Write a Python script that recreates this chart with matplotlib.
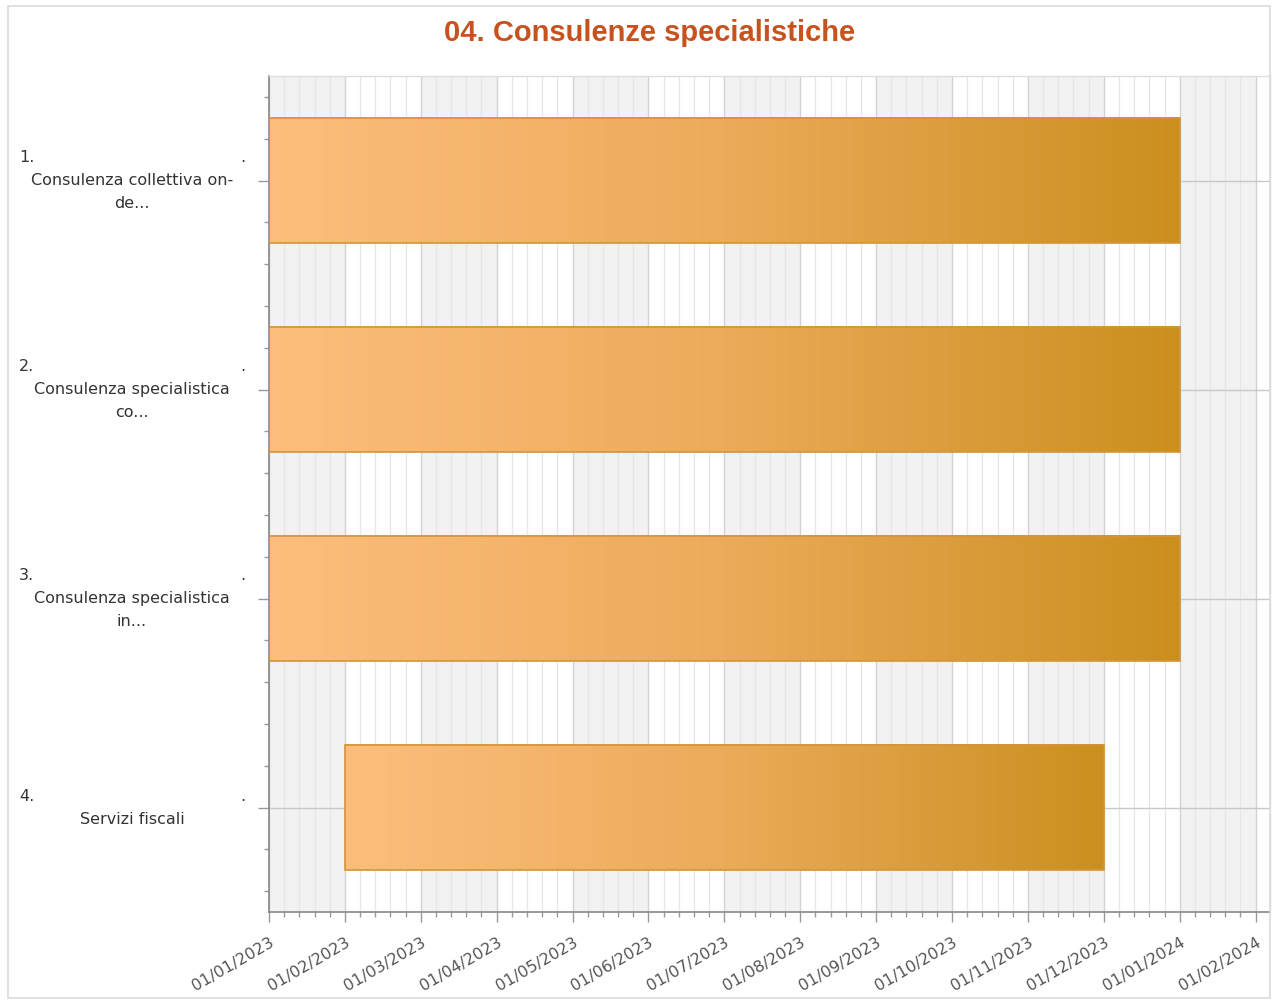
import matplotlib
matplotlib.use('Agg')
import matplotlib.pyplot as plt
from matplotlib.colors import LinearSegmentedColormap
from matplotlib.patches import Rectangle
from matplotlib.ticker import FixedLocator, FixedFormatter
import numpy as np
import pandas as pd

# ---------------- data ----------------
title = "04. Consulenze specialistiche"
numbers = ["1.", "2.", "3.", "4."]
names = ["Consulenza collettiva on-\nde...",
         "Consulenza specialistica\nco...",
         "Consulenza specialistica\nin...",
         "Servizi fiscali"]
starts = ["2023-01-01", "2023-01-01", "2023-01-01", "2023-02-01"]
ends = ["2024-01-01", "2024-01-01", "2024-01-01", "2023-12-01"]
month_labels = ["01/01/2023", "01/02/2023", "01/03/2023", "01/04/2023",
                "01/05/2023", "01/06/2023", "01/07/2023", "01/08/2023",
                "01/09/2023", "01/10/2023", "01/11/2023", "01/12/2023",
                "01/01/2024", "01/02/2024"]
base_year, base_month = 2023, 1
axis_extra_months = 0.19  # axis extends a little past the last labelled month


def to_month_units(d):
    """Chart axis: every month has equal width."""
    t = pd.Timestamp(d)
    idx = (t.year - base_year) * 12 + (t.month - base_month)
    return idx + (t.day - 1) / t.days_in_month


# ---------------- figure ----------------
W, H = 1276, 1000
fig = plt.figure(figsize=(W / 100, H / 100), dpi=100)
fig.patches.append(Rectangle((8 / W, 0.002), (1270 - 8) / W, 992 / H,
                             transform=fig.transFigure, facecolor='none',
                             edgecolor='#DADADA', lw=1.2))

ax = fig.add_axes([269 / W, 1 - 912 / H, (1270 - 269) / W, (912 - 76) / H])

n_months = len(month_labels)
mpos = np.arange(n_months)

# alternating month bands
for i in range(n_months):
    if i % 2 == 0:
        ax.axvspan(i, i + 1, facecolor='#F2F2F2', edgecolor='none', zorder=0)

minor = [i + k / 5 for i in range(n_months) for k in range(1, 5)]

ax.xaxis.set_major_locator(FixedLocator(mpos))
ax.xaxis.set_major_formatter(FixedFormatter(month_labels))
ax.xaxis.set_minor_locator(FixedLocator(minor))
ax.grid(which='major', axis='x', color='#D2D2D2', lw=1.0, zorder=0.5)
ax.grid(which='minor', axis='x', color='#E6E6E6', lw=0.9, zorder=0.5)
ax.grid(which='major', axis='y', color='#C8C8C8', lw=1.0, zorder=0.5)
ax.set_axisbelow(True)

# bars with horizontal gradient
cmap = LinearSegmentedColormap.from_list('g', ['#FDBE7D', '#EBAB5A', '#CB8F1F'])
grad = np.linspace(0, 1, 256).reshape(1, -1)
ypos = np.arange(1, len(names) + 1)
h = 0.6
s_num = np.array([to_month_units(d) for d in starts])
e_num = np.array([to_month_units(d) for d in ends])
for y, s, e in zip(ypos, s_num, e_num):
    ax.imshow(grad, extent=[s, e, y + h / 2, y - h / 2], aspect='auto',
              cmap=cmap, zorder=2, interpolation='bilinear')
ax.barh(ypos, e_num - s_num, left=s_num, height=h, facecolor='none',
        edgecolor='#D4943A', lw=1.2, zorder=3)

ax.set_xlim(0, n_months - 1 + axis_extra_months)
ax.set_ylim(len(names) + 0.5, 0.5)

# y ticks
ax.set_yticks(ypos)
ax.set_yticks(np.arange(0.6, len(names) + 0.5, 0.2), minor=True)
ax.set_yticklabels([])
ax.tick_params(axis='y', which='major', length=8, color='#999999', width=1)
ax.tick_params(axis='y', which='minor', length=3.5, color='#999999', width=1)
ax.tick_params(axis='x', which='major', length=7.5, color='#999999', width=1,
               labelsize=11.5, labelcolor='#555555', pad=9)
ax.tick_params(axis='x', which='minor', length=3.5, color='#999999', width=1)
for lab in ax.get_xticklabels():
    lab.set_rotation(30)
    lab.set_ha('right')
    lab.set_rotation_mode('anchor')

for side in ['left', 'bottom']:
    ax.spines[side].set_color('#888888')
    ax.spines[side].set_linewidth(1.2)
for side in ['top', 'right']:
    ax.spines[side].set_color('#DDDDDD')
    ax.spines[side].set_linewidth(1.0)

# category labels
lh = 23
for y, num, name in zip(ypos, numbers, names):
    lines = name.split('\n')
    n = 1 + len(lines)
    top = (n - 1) / 2 * lh
    ax.annotate(num, xy=(19, y), xycoords=('figure pixels', 'data'),
                xytext=(0, top), textcoords='offset pixels',
                ha='left', va='center', fontsize=11.5, color='#333333')
    ax.annotate('.', xy=(243, y), xycoords=('figure pixels', 'data'),
                xytext=(0, top), textcoords='offset pixels',
                ha='center', va='center', fontsize=11.5, color='#333333')
    for j, ln in enumerate(lines):
        ax.annotate(ln, xy=(132, y), xycoords=('figure pixels', 'data'),
                    xytext=(0, top - (j + 1) * lh), textcoords='offset pixels',
                    ha='center', va='center', fontsize=11.5, color='#333333')

fig.text(650 / W, 1 - 33 / H, title, ha='center', va='center',
         fontsize=21, fontweight='bold', color='#C8521E', family='Liberation Sans')

fig.savefig('out.png', dpi=100)
